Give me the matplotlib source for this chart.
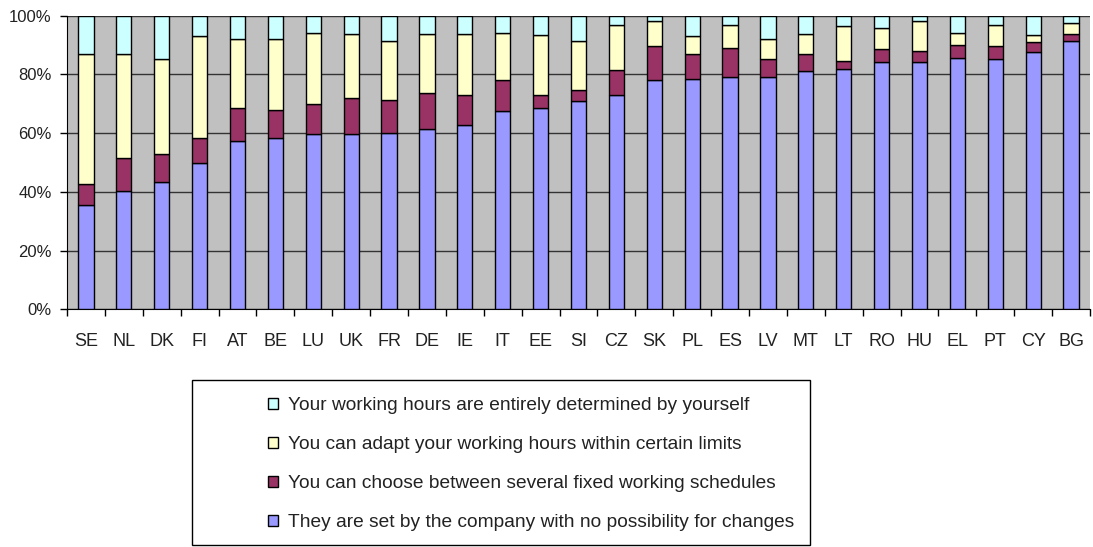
import matplotlib
matplotlib.use("Agg")
import matplotlib.pyplot as plt
import numpy as np
from matplotlib.patches import Rectangle

countries = ["SE", "NL", "DK", "FI", "AT", "BE", "LU", "UK", "FR", "DE", "IE", "IT", "EE", "SI",
             "CZ", "SK", "PL", "ES", "LV", "MT", "LT", "RO", "HU", "EL", "PT", "CY", "BG"]
set_by_company = [35.6, 40.4, 43.3, 49.9, 57.4, 58.4, 59.7, 59.7, 60.2, 61.4, 62.7, 67.6, 68.4, 71.0,
                  73.0, 78.0, 78.5, 79.1, 79.1, 81.0, 81.7, 84.4, 84.4, 85.5, 85.3, 87.6, 91.5]
fixed_schedules = [7.1, 11.0, 9.5, 8.6, 11.0, 9.4, 10.1, 12.1, 11.0, 12.4, 10.4, 10.4, 4.7, 3.6,
                   8.4, 11.6, 8.5, 9.8, 6.2, 6.0, 3.0, 4.1, 3.7, 4.6, 4.5, 3.4, 2.3]
adapt_hours = [44.1, 35.4, 32.6, 34.7, 23.7, 24.3, 24.4, 21.8, 20.3, 19.8, 20.7, 16.1, 20.3, 16.9,
               15.4, 8.7, 6.2, 7.9, 6.8, 6.8, 11.7, 7.3, 10.2, 4.0, 7.0, 2.4, 3.7]
self_determined = [100 - a - b - c for a, b, c in zip(set_by_company, fixed_schedules, adapt_hours)]

labels = ["They are set by the company with no possibility for changes",
          "You can choose between several fixed working schedules",
          "You can adapt your working hours within certain limits",
          "Your working hours are entirely determined by yourself"]
colors = ["#9999FF", "#993366", "#FFFFCC", "#CCFFFF"]
yticks = [0, 20, 40, 60, 80, 100]
ytick_labels = ["0%", "20%", "40%", "60%", "80%", "100%"]

plt.rcParams['font.family'] = ['Liberation Sans', 'DejaVu Sans']
text_color = "#222222"

fig = plt.figure(figsize=(10.93, 5.47), dpi=100)
ax = fig.add_axes([67/1093, 1-309.3/547, (1090-67)/1093, (309.3-15.7)/547])
ax.set_facecolor("#C0C0C0")

x = np.arange(len(countries))
series = [set_by_company, fixed_schedules, adapt_hours, self_determined]
bottom = np.zeros(len(countries))
handles = []
for vals, col, lab in zip(series, colors, labels):
    h = ax.bar(x, vals, bottom=bottom, width=0.4, color=col, edgecolor="black",
               linewidth=1.0, label=lab, zorder=3)
    handles.append(h)
    bottom += np.array(vals)

ax.set_xlim(-0.5, len(countries) - 0.5)
ax.set_ylim(0, 100)
ax.set_yticks(yticks)
ax.set_yticklabels(ytick_labels, fontsize=12, color=text_color)
ax.set_xticks(x)
ax.set_xticklabels(countries, fontsize=13, color=text_color)
ax.set_xticks(np.arange(-0.5, len(countries)), minor=True)
ax.tick_params(axis="x", which="major", length=0, pad=17)
ax.tick_params(axis="x", which="minor", length=5, width=1, color="black")
ax.tick_params(axis="y", length=5, width=1, color="black", pad=6)
ax.yaxis.grid(True, color="#333333", linewidth=1.0, zorder=0)
ax.set_axisbelow(True)
for s in ["top", "right"]:
    ax.spines[s].set_visible(False)
ax.spines["left"].set_color("black")
ax.spines["bottom"].set_color("black")

# legend box
fig.patches.append(Rectangle((192/1093, 1-545/547), (810-192)/1093, (545-380)/547,
                             transform=fig.transFigure, facecolor="white",
                             edgecolor="black", linewidth=1.0, zorder=0))
leg = fig.legend(handles[::-1], labels[::-1], loc="upper left",
                 bbox_to_anchor=(251/1093, 1-380/547), frameon=False,
                 fontsize=13.8, handlelength=0.5, handleheight=0.5, handletextpad=0.55,
                 labelspacing=1.15, labelcolor=text_color)

fig.savefig("out.png", dpi=100)
